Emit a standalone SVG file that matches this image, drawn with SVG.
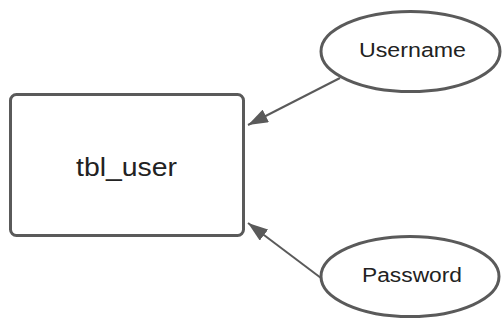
<svg xmlns="http://www.w3.org/2000/svg" width="502" height="320" viewBox="0 0 502 320">
<style>
.shape{fill:#ffffff;stroke:#5a5a5a;stroke-width:3}
.conn{stroke:#5a5a5a;stroke-width:2;fill:none}
.lbl{font-family:"Liberation Sans",Arial,sans-serif;fill:#222222;text-anchor:middle}
</style>
<defs>
<marker id="arr" viewBox="0 0 20 14" refX="20" refY="7" markerWidth="20" markerHeight="14" markerUnits="userSpaceOnUse" orient="auto">
<path d="M0,0 L20,7 L0,14 Z" fill="#5a5a5a"/>
</marker>
</defs>
<rect width="502" height="320" fill="#ffffff"/>
<g id="connectors">
<line class="conn" x1="340" y1="78" x2="248" y2="125" marker-end="url(#arr)"/>
<line class="conn" x1="321" y1="278" x2="248" y2="223" marker-end="url(#arr)"/>
</g>
<g id="tbl_user">
<rect class="shape" x="10.5" y="94.5" width="233" height="141" rx="6"/>
<text class="lbl" x="126.5" y="176" font-size="26" textLength="101" lengthAdjust="spacingAndGlyphs">tbl_user</text>
</g>
<g id="username">
<ellipse class="shape" cx="410.5" cy="51.5" rx="89.5" ry="40"/>
<text class="lbl" x="412.5" y="57.3" font-size="20.5" textLength="107" lengthAdjust="spacingAndGlyphs">Username</text>
</g>
<g id="password">
<ellipse class="shape" cx="410" cy="276.5" rx="89" ry="40"/>
<text class="lbl" x="412" y="282.3" font-size="20" textLength="100" lengthAdjust="spacingAndGlyphs">Password</text>
</g>
</svg>
